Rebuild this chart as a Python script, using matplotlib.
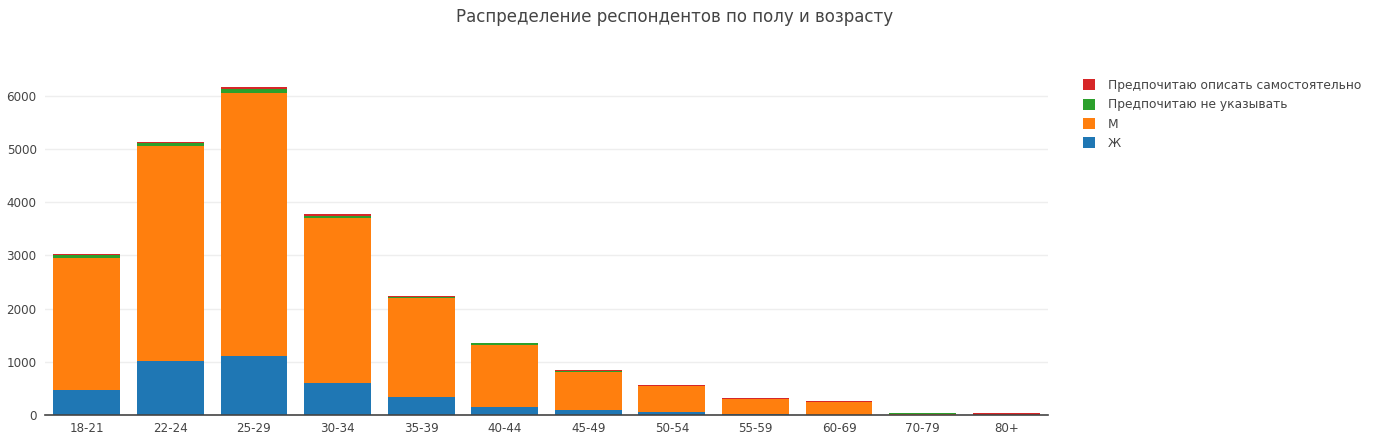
import matplotlib.pyplot as plt
import numpy as np

# age groups and counts per gender answer
ages = ['18-21', '22-24', '25-29', '30-34', '35-39', '40-44',
        '45-49', '50-54', '55-59', '60-69', '70-79', '80+']
female = [470, 1015, 1110, 600, 340, 150, 100, 60, 20, 8, 2, 0]
male = [2490, 4045, 4950, 3100, 1860, 1160, 715, 485, 280, 236, 18, 0]
no_answer = [40, 50, 60, 40, 15, 35, 10, 5, 5, 3, 20, 0]
self_desc = [25, 30, 40, 30, 25, 15, 20, 15, 15, 15, 0, 40]

series = [('Ж', female, '#1f77b4'),
          ('М', male, '#ff7f0e'),
          ('Предпочитаю не указывать', no_answer, '#2ca02c'),
          ('Предпочитаю описать самостоятельно', self_desc, '#d62728')]

plt.rcParams['font.family'] = ['DejaVu Sans']
W, H = 1385, 441
fig = plt.figure(figsize=(W / 100, H / 100), dpi=100)
ax = fig.add_axes([45 / W, (H - 415) / H, 1003 / W, (415 - 70) / H])

x = np.arange(len(ages))
bottom = np.zeros(len(ages))
handles = []
for name, vals, color in series:
    b = ax.bar(x, vals, width=0.8, bottom=bottom, color=color, label=name, linewidth=0)
    handles.append(b)
    bottom += np.array(vals)

ax.set_xlim(-0.5, len(ages) - 0.5)
ax.set_ylim(0, 6484)
ax.set_yticks(range(0, 7000, 1000))
ax.set_xticks(x)
ax.set_xticklabels(ages)
ax.grid(axis='y', color='#eeeeee', linewidth=1)
ax.set_axisbelow(True)
for s in ['top', 'right', 'left']:
    ax.spines[s].set_visible(False)
ax.spines['bottom'].set_color('#444444')
ax.spines['bottom'].set_linewidth(1.2)
ax.tick_params(axis='y', length=0, pad=6, labelsize=8.6, labelcolor='#444444')
ax.tick_params(axis='x', length=0, pad=5, labelsize=8.6, labelcolor='#444444')

fig.text(675 / W, 1 - 17 / H, 'Распределение респондентов по полу и возрасту',
         ha='center', va='center', fontsize=12, color='#444444')

fig.legend(handles[::-1], [s[0] for s in series][::-1],
           loc='upper left', bbox_to_anchor=(1083 / W, 1 - 79 / H),
           frameon=False, fontsize=8.8, labelcolor='#444444',
           borderpad=0, borderaxespad=0,
           handlelength=1.0, handleheight=1.0, handletextpad=1.05, labelspacing=0.52)

plt.savefig('out.png', dpi=100)
